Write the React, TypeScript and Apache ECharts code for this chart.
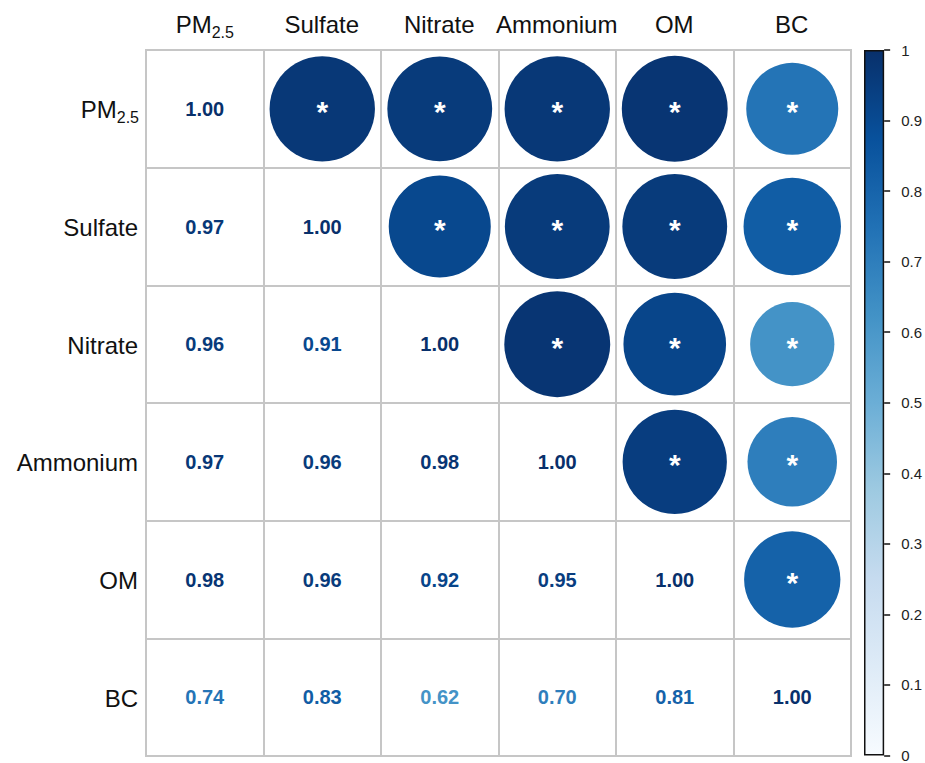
import React, { useEffect, useRef } from 'react';
import * as echarts from 'echarts';

// ---- Data ----
const variables = ['PM2.5', 'Sulfate', 'Nitrate', 'Ammonium', 'OM', 'BC'];
const corrPM25 = [1.0, 0.97, 0.96, 0.97, 0.98, 0.74];
const corrSulfate = [0.97, 1.0, 0.91, 0.96, 0.96, 0.83];
const corrNitrate = [0.96, 0.91, 1.0, 0.98, 0.92, 0.62];
const corrAmmonium = [0.97, 0.96, 0.98, 1.0, 0.95, 0.7];
const corrOM = [0.98, 0.96, 0.92, 0.95, 1.0, 0.81];
const corrBC = [0.74, 0.83, 0.62, 0.7, 0.81, 1.0];
const matrix = [corrPM25, corrSulfate, corrNitrate, corrAmmonium, corrOM, corrBC];
const colorbarMin = 0;
const colorbarMax = 1;
const colorbarStep = 0.1;

// Blues palette
const blues = ['#F7FBFF', '#DEEBF7', '#C6DBEF', '#9ECAE1', '#6BAED6', '#4292C6', '#2171B5', '#08519C', '#08306B'];

const FONT = '"Liberation Sans", Arial, sans-serif';
const CIRCLE_MAX = 107;

function colorOf(v: number): string {
  return echarts.color.lerp((v - colorbarMin) / (colorbarMax - colorbarMin), blues) as string;
}

export default function App() {
  const ref = useRef<HTMLDivElement>(null);

  useEffect(() => {
    if (!ref.current) return;
    const chart = echarts.init(ref.current, null, { renderer: 'svg' });

    const circleData: any[] = [];
    const textData: any[] = [];
    matrix.forEach((row, i) => {
      row.forEach((v, j) => {
        if (j > i) {
          circleData.push({ value: [j, i, v], itemStyle: { color: colorOf(v) } });
        } else {
          textData.push({ value: [j, i, v], label: { color: colorOf(v) } });
        }
      });
    });

    const rich = {
      m: { fontSize: 24, lineHeight: 24, verticalAlign: 'bottom', padding: [0, 0, 4, 0], color: '#111', fontFamily: FONT },
      s: { fontSize: 16, lineHeight: 16, verticalAlign: 'bottom', color: '#111', fontFamily: FONT },
      z: { fontSize: 16, lineHeight: 16, verticalAlign: 'bottom', width: 1, fontFamily: FONT },
    };
    const fmt = (v: string) => (v === 'PM2.5' ? '{m|PM}{s|2.5}' : `{m|${v}}{z| }`);

    const stops = blues.map((c, k) => ({ offset: k / (blues.length - 1), color: c }));

    const option: any = {
      animation: false,
      backgroundColor: '#fff',
      textStyle: { fontFamily: FONT },
      grid: [
        { left: 146, top: 50, width: 705, height: 706, show: true, borderColor: '#c6c6c6', borderWidth: 2, backgroundColor: 'transparent' },
        { left: 864, top: 50, width: 21, height: 707, show: false },
      ],
      xAxis: [
        {
          type: 'category',
          gridIndex: 0,
          data: variables,
          position: 'top',
          axisLine: { show: false },
          axisTick: { show: false },
          axisLabel: { formatter: fmt, rich, margin: 10, interval: 0 },
          splitLine: { show: true, interval: 0, lineStyle: { color: '#c6c6c6', width: 2 } },
        },
        {
          type: 'category',
          gridIndex: 1,
          data: [''],
          show: false,
        },
      ],
      yAxis: [
        {
          type: 'category',
          gridIndex: 0,
          data: variables,
          inverse: true,
          axisLine: { show: false },
          axisTick: { show: false },
          axisLabel: { formatter: fmt, rich, margin: 7, interval: 0, padding: [10, 0, 0, 0] },
          splitLine: { show: true, interval: 0, lineStyle: { color: '#c6c6c6', width: 2 } },
        },
        {
          type: 'value',
          gridIndex: 1,
          min: colorbarMin,
          max: colorbarMax,
          interval: colorbarStep,
          position: 'right',
          splitLine: { show: false },
          axisLine: { show: false },
          axisTick: { show: true, length: 6, lineStyle: { color: '#111', width: 1.5 } },
          axisLabel: { fontSize: 15, color: '#222', margin: 17, fontFamily: FONT },
        },
      ],
      series: [
        {
          type: 'scatter',
          xAxisIndex: 0,
          yAxisIndex: 0,
          data: circleData,
          symbol: 'circle',
          symbolSize: (val: number[]) => CIRCLE_MAX * Math.sqrt(Math.abs(val[2])),
          itemStyle: { opacity: 1 },
          label: {
            show: true,
            position: 'inside',
            formatter: '*',
            color: '#fff',
            fontSize: 30,
            fontWeight: 'bold',
            fontFamily: FONT,
            offset: [0, 3],
          },
          z: 3,
        },
        {
          type: 'scatter',
          xAxisIndex: 0,
          yAxisIndex: 0,
          data: textData,
          symbolSize: 1,
          itemStyle: { color: 'rgba(0,0,0,0)', opacity: 1 },
          label: {
            show: true,
            position: 'inside',
            formatter: (p: any) => p.value[2].toFixed(2),
            fontSize: 20,
            fontWeight: 'bold',
            fontFamily: FONT,
            opacity: 1,
          },
          z: 3,
        },
        {
          type: 'bar',
          xAxisIndex: 1,
          yAxisIndex: 1,
          data: [colorbarMax],
          barWidth: '100%',
          itemStyle: {
            color: new echarts.graphic.LinearGradient(0, 1, 0, 0, stops),
            borderColor: '#111',
            borderWidth: 1.5,
          },
          silent: true,
        },
      ],
    };

    chart.setOption(option);
    return () => chart.dispose();
  }, []);

  return (
    <div
      ref={ref}
      style={{ position: 'absolute', left: 0, top: 0, width: 925, height: 763, background: '#fff' }}
    />
  );
}
